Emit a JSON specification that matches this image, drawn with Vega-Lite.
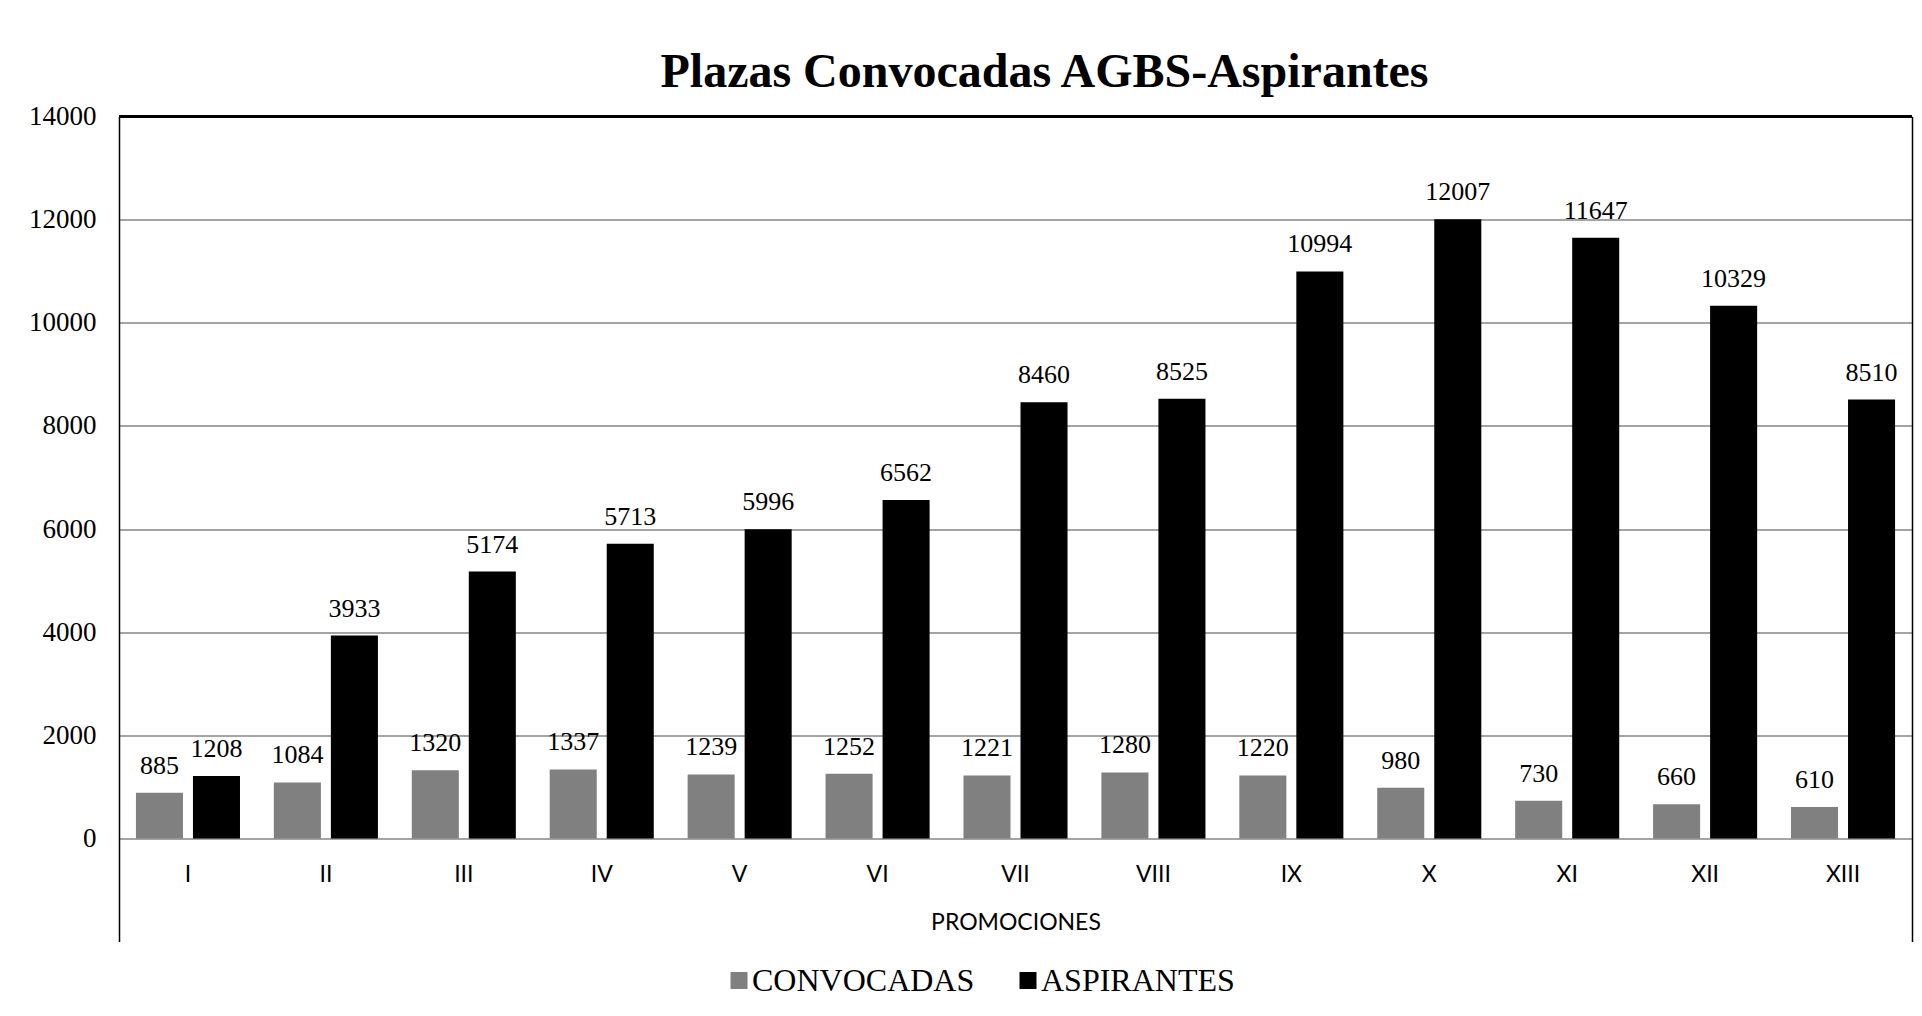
{
  "$schema": "https://vega.github.io/schema/vega-lite/v6.json",
  "autosize": {"type": "none"},
  "padding": {"left": 119, "top": 116.5, "right": 10, "bottom": 74.5},
  "width": 1793,
  "height": 825,
  "background": "#ffffff",
  "title": {
    "text": "Plazas Convocadas AGBS-Aspirantes",
    "font": "Liberation Serif",
    "fontSize": 48,
    "fontWeight": "bold",
    "color": "#000000",
    "anchor": "middle",
    "frame": "group",
    "baseline": "alphabetic",
    "offset": 27,
    "dx": 29,
    "dy": 59
  },
  "config": {
    "view": {"stroke": null},
    "axis": {"labelColor": "#000000", "titleColor": "#000000"}
  },
  "data": {
    "values": [
      {"prom": "I", "serie": "CONVOCADAS", "valor": 885},
      {"prom": "I", "serie": "ASPIRANTES", "valor": 1208},
      {"prom": "II", "serie": "CONVOCADAS", "valor": 1084},
      {"prom": "II", "serie": "ASPIRANTES", "valor": 3933},
      {"prom": "III", "serie": "CONVOCADAS", "valor": 1320},
      {"prom": "III", "serie": "ASPIRANTES", "valor": 5174},
      {"prom": "IV", "serie": "CONVOCADAS", "valor": 1337},
      {"prom": "IV", "serie": "ASPIRANTES", "valor": 5713},
      {"prom": "V", "serie": "CONVOCADAS", "valor": 1239},
      {"prom": "V", "serie": "ASPIRANTES", "valor": 5996},
      {"prom": "VI", "serie": "CONVOCADAS", "valor": 1252},
      {"prom": "VI", "serie": "ASPIRANTES", "valor": 6562},
      {"prom": "VII", "serie": "CONVOCADAS", "valor": 1221},
      {"prom": "VII", "serie": "ASPIRANTES", "valor": 8460},
      {"prom": "VIII", "serie": "CONVOCADAS", "valor": 1280},
      {"prom": "VIII", "serie": "ASPIRANTES", "valor": 8525},
      {"prom": "IX", "serie": "CONVOCADAS", "valor": 1220},
      {"prom": "IX", "serie": "ASPIRANTES", "valor": 10994},
      {"prom": "X", "serie": "CONVOCADAS", "valor": 980},
      {"prom": "X", "serie": "ASPIRANTES", "valor": 12007},
      {"prom": "XI", "serie": "CONVOCADAS", "valor": 730},
      {"prom": "XI", "serie": "ASPIRANTES", "valor": 11647},
      {"prom": "XII", "serie": "CONVOCADAS", "valor": 660},
      {"prom": "XII", "serie": "ASPIRANTES", "valor": 10329},
      {"prom": "XIII", "serie": "CONVOCADAS", "valor": 610},
      {"prom": "XIII", "serie": "ASPIRANTES", "valor": 8510}
    ]
  },
  "resolve": {"axis": {"y": "independent"}},
  "layer": [
    {
      "mark": {"type": "bar"},
      "encoding": {
        "x": {
          "field": "prom",
          "type": "nominal",
          "sort": ["I","II","III","IV","V","VI","VII","VIII","IX","X","XI","XII","XIII"],
          "scale": {"paddingInner": 0, "paddingOuter": 0},
          "axis": {
            "title": "PROMOCIONES",
            "titleFont": "Lato",
            "titleFontSize": 23,
            "titleFontWeight": "normal",
            "titlePadding": 25,
            "labelFont": "Lato",
            "labelFontSize": 23,
            "labelPadding": 25,
            "labelAngle": 0,
            "ticks": false,
            "domain": false,
            "offset": -103
          }
        },
        "xOffset": {
          "field": "serie",
          "type": "nominal",
          "sort": ["CONVOCADAS", "ASPIRANTES"],
          "scale": {"paddingInner": 0.175, "paddingOuter": 0.297}
        },
        "y": {
          "field": "valor",
          "type": "quantitative",
          "stack": null,
          "scale": {"domain": [-2000, 14000], "nice": false, "zero": false},
          "axis": {
            "title": null,
            "values": [0, 2000, 4000, 6000, 8000, 10000, 12000, 14000],
            "format": "d",
            "labelFont": "Liberation Serif",
            "labelFontSize": 27,
            "labelPadding": 23,
            "ticks": false,
            "domain": true,
            "domainColor": "#000000",
            "domainWidth": 1.5,
            "grid": true,
            "gridColor": "#868686",
            "gridWidth": 1.3
          }
        },
        "color": {
          "field": "serie",
          "type": "nominal",
          "scale": {"domain": ["CONVOCADAS", "ASPIRANTES"], "range": ["#808080", "#000000"]},
          "legend": {
            "title": null,
            "orient": "none",
            "direction": "horizontal",
            "legendX": 604,
            "legendY": 848,
            "symbolType": "square",
            "symbolSize": 289,
            "symbolStrokeWidth": 0,
            "symbolOpacity": 1,
            "labelFont": "Liberation Serif",
            "labelFontSize": 32,
            "labelColor": "#000000",
            "labelOffset": -3,
            "columnPadding": 37,
            "labelLimit": 400
          }
        }
      }
    },
    {
      "mark": {"type": "text", "font": "Liberation Serif", "fontSize": 26, "color": "#000000", "baseline": "middle", "dy": -27},
      "encoding": {
        "x": {"field": "prom", "type": "nominal", "sort": ["I","II","III","IV","V","VI","VII","VIII","IX","X","XI","XII","XIII"]},
        "xOffset": {"field": "serie", "type": "nominal", "sort": ["CONVOCADAS", "ASPIRANTES"]},
        "y": {"field": "valor", "type": "quantitative", "stack": null, "axis": null},
        "text": {"field": "valor", "type": "quantitative", "format": "d"}
      }
    },
    {
      "mark": {"type": "rule", "color": "#000000", "strokeWidth": 1.5},
      "encoding": {
        "y": {
          "datum": 14000,
          "axis": {
            "orient": "right",
            "title": null,
            "labels": false,
            "ticks": false,
            "grid": false,
            "domain": true,
            "domainColor": "#000000",
            "domainWidth": 1.5
          }
        }
      }
    }
  ]
}
